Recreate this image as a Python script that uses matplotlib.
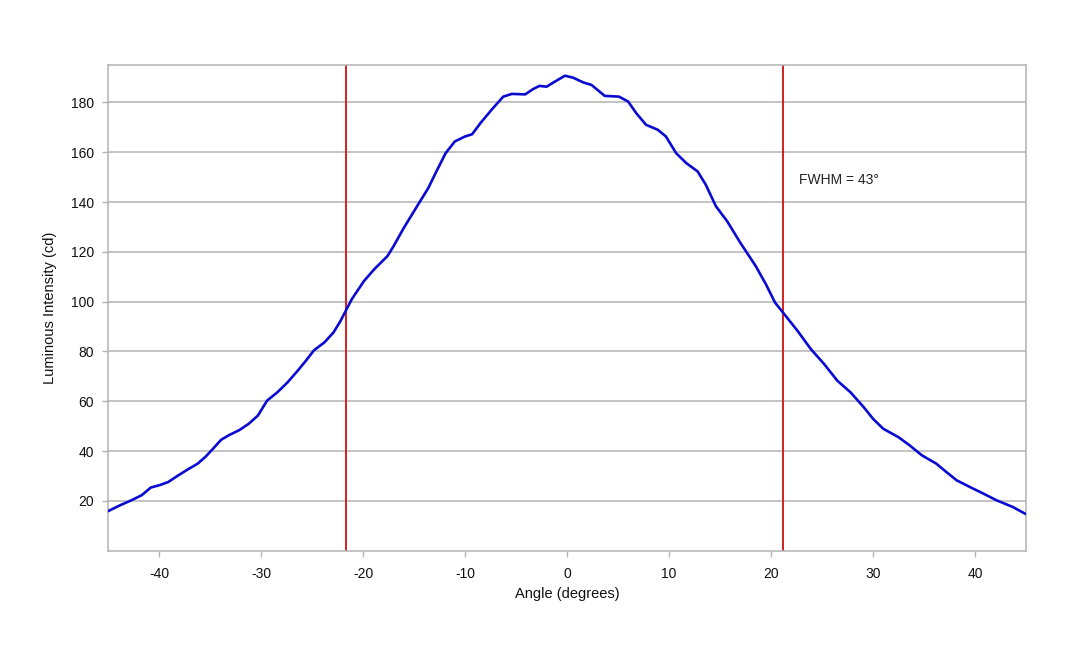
import numpy as np
import matplotlib
matplotlib.use("Agg")
import matplotlib.pyplot as plt

plt.rcParams['font.family'] = ['Liberation Sans', 'DejaVu Sans']
plt.rcParams['axes.unicode_minus'] = False

angle = [-45.0, -43.8, -42.7, -41.7, -40.8, -39.9, -39.1, -38.1, -37.2, -36.2,
         -35.4, -34.7, -33.9, -33.1, -32.1, -31.2, -30.3, -29.4, -28.4, -27.4,
         -26.4, -25.6, -24.8, -23.8, -22.9, -22.2, -21.1, -19.9, -18.9, -17.6,
         -17.0, -16.0, -14.7, -13.6, -12.8, -11.9, -11.0, -10.0, -9.3, -8.5,
         -7.4, -6.25, -5.4, -4.1, -3.3, -2.7, -2.0, -1.2, -0.2, 0.6,
         1.6, 2.4, 3.7, 5.1, 6.0, 6.8, 7.75, 8.9, 9.7, 10.7,
         11.7, 12.8, 13.6, 14.6, 15.7, 17.0, 18.5, 19.5, 20.4, 21.3,
         22.6, 23.9, 25.2, 26.5, 27.8, 29.1, 30.0, 31.0, 32.5, 33.6,
         34.8, 36.2, 37.2, 38.2, 39.5, 40.8, 42.1, 43.7, 45.0]
intensity = [15.9, 18.3, 20.3, 22.3, 25.4, 26.4, 27.6, 30.3, 32.6, 35.0,
             37.9, 41.0, 44.6, 46.5, 48.5, 51.0, 54.3, 60.3, 63.6, 67.6,
             72.3, 76.3, 80.5, 83.6, 87.6, 92.3, 101.0, 108.3, 113.0, 118.3,
             122.3, 129.6, 138.3, 145.6, 152.3, 159.6, 164.3, 166.3, 167.2, 171.6,
             177.0, 182.3, 183.4, 183.2, 185.4, 186.6, 186.3, 188.3, 190.7, 189.9,
             188.0, 187.0, 182.6, 182.3, 180.3, 175.6, 171.0, 169.0, 166.3, 159.6,
             155.6, 152.3, 147.0, 138.3, 132.3, 123.6, 114.3, 107.0, 99.6, 95.0,
             88.3, 81.0, 75.0, 68.3, 63.6, 57.6, 53.0, 49.0, 45.6, 42.3,
             38.3, 35.0, 31.6, 28.3, 25.6, 23.0, 20.3, 17.6, 14.7]

half_max_left = -21.7
half_max_right = 21.2
fwhm_text = "FWHM = 43\u00b0"

x_ticks = [-40, -30, -20, -10, 0, 10, 20, 30, 40]
y_ticks = [20, 40, 60, 80, 100, 120, 140, 160, 180]

fig = plt.figure(figsize=(10.8, 6.48), dpi=100)
ax = fig.add_axes([0.1, 0.150, 0.85, 0.7497])

ax.plot(angle, intensity, color='#0a0ad2', lw=1.9, zorder=3,
        solid_joinstyle='round', solid_capstyle='round')
ax.axvline(half_max_left, color='#d42020', lw=1.4, zorder=2)
ax.axvline(half_max_right, color='#d42020', lw=1.4, zorder=2)
ax.text(22.7, 149, fwhm_text, fontsize=10, color='#222222', va='center')

ax.set_xlim(-45, 45)
ax.set_ylim(0, 195)
ax.set_xticks(x_ticks)
ax.set_yticks(y_ticks)
ax.yaxis.grid(True, color='#b3b3b3', lw=1.1)
ax.set_axisbelow(True)

for s in ax.spines.values():
    s.set_color('#b3b3b3')
    s.set_linewidth(1.1)
ax.tick_params(axis='both', colors='#b3b3b3', labelcolor='#111111',
               labelsize=10, length=4, width=1)
ax.tick_params(axis='x', pad=8)
ax.tick_params(axis='y', pad=6)

ax.set_xlabel("Angle (degrees)", fontsize=10.5, color='#111111', labelpad=4)
ax.set_ylabel("Luminous Intensity (cd)", fontsize=10.5, color='#111111', labelpad=10)

fig.savefig("out.png", dpi=100)
